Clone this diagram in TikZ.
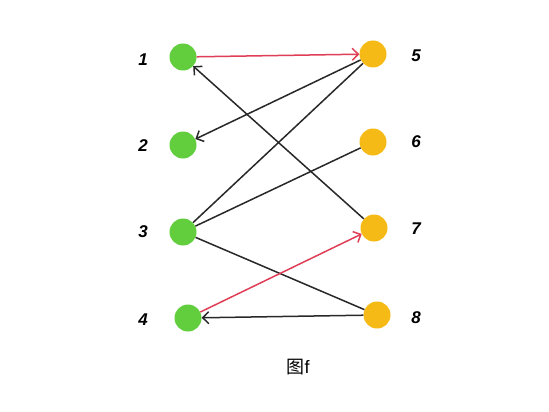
\documentclass[tikz,border=0pt]{standalone}
\usepackage{fontspec}
\setmainfont{Liberation Sans}
\newfontfamily\cjk{Noto Sans CJK SC}
\usetikzlibrary{arrows.meta}
\definecolor{gfill}{RGB}{98,206,62}
\definecolor{ofill}{RGB}{246,186,22}
\definecolor{redl}{RGB}{222,62,86}
\definecolor{darkl}{RGB}{40,40,40}
\begin{document}
\begin{tikzpicture}[x=1pt,y=-1pt,
  gnode/.style={circle,fill=gfill,minimum size=27pt,inner sep=0pt},
  onode/.style={circle,fill=ofill,minimum size=27pt,inner sep=0pt},
  lab/.style={font=\fontsize{17}{17}\selectfont\bfseries\itshape},
  edge/.style={draw=darkl,line width=1.5pt},
  redge/.style={draw=redl,line width=1.5pt},
  arr/.style={-{Straight Barb[length=6pt,width=12pt,line width=1.5pt]}}]
\useasboundingbox[fill=white] (0,0) rectangle (549,412);
\node[gnode] (n1) at (183,57) {};
\node[gnode] (n2) at (183,145) {};
\node[gnode] (n3) at (183,232) {};
\node[gnode] (n4) at (188,318) {};
\node[onode] (n5) at (373,54) {};
\node[onode] (n6) at (373,142) {};
\node[onode] (n7) at (374,228) {};
\node[onode] (n8) at (377,315) {};
\node[lab] (l1) at (143,60) {1};
\node[lab] (l2) at (143,146) {2};
\node[lab] (l3) at (143,232) {3};
\node[lab] (l4) at (143,320) {4};
\node[lab] (l5) at (416,56) {5};
\node[lab] (l6) at (416,142) {6};
\node[lab] (l7) at (416,229) {7};
\node[lab] (l8) at (416,318) {8};
\node[font=\fontsize{18}{18}\selectfont] (cap) at (298,367) {{\cjk 图}f};
\draw[redge,arr] (n1) -- (n5);
\draw[edge,arr] (n5) -- (n2);
\draw[edge] (n3) -- (n5);
\draw[edge] (n3) -- (n6);
\draw[edge,arr] (n7) -- (n1);
\draw[edge] (n3) -- (n8);
\draw[redge,arr] (n4) -- (n7);
\draw[edge,arr] (n8) -- (n4);
\end{tikzpicture}
\end{document}
